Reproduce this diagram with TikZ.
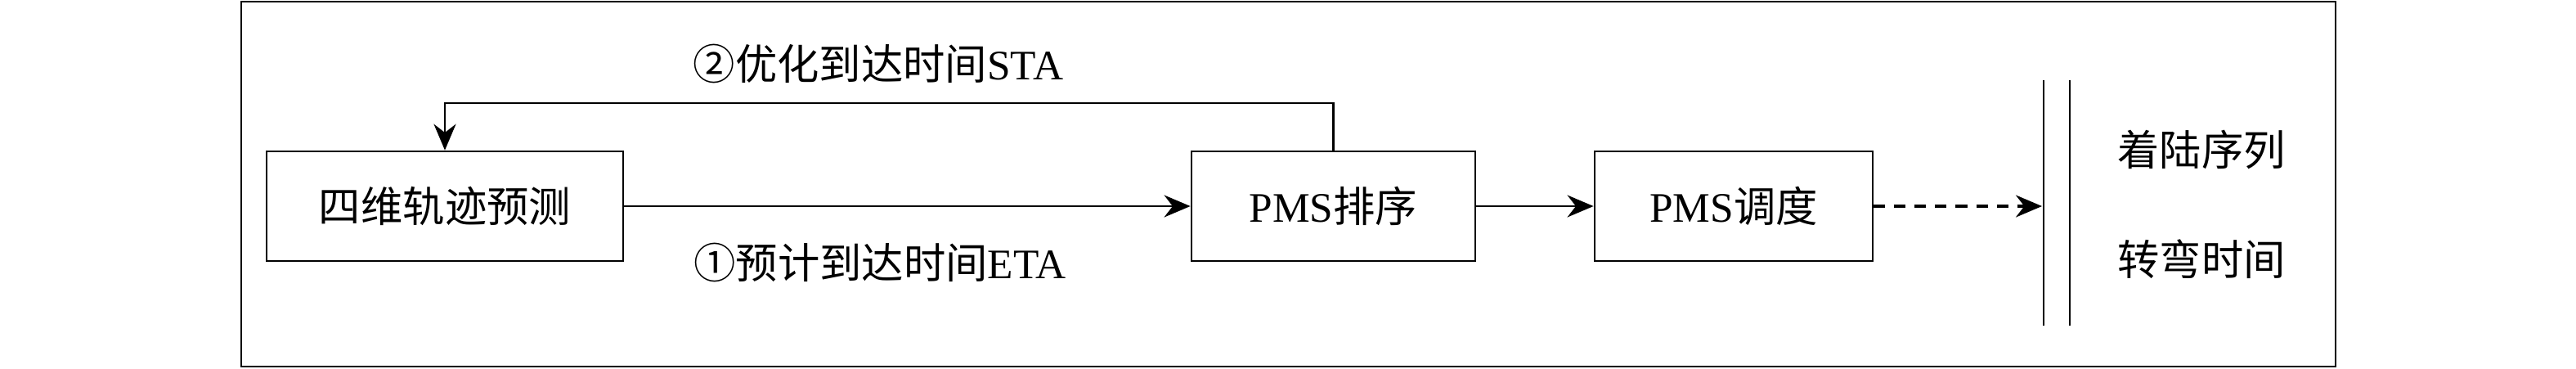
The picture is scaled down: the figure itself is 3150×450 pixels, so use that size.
\documentclass[tikz,border=0pt]{standalone}
\usepackage{fontspec}
\setmainfont{Liberation Serif}
\newfontfamily\cjk{Noto Sans CJK SC}
\usetikzlibrary{arrows.meta}
\begin{document}
\begin{tikzpicture}[x=0.01cm,y=-0.01cm,
  every node/.style={font=\fontsize{14.6}{16}\selectfont, inner sep=0pt},
  procbox/.style={draw, line width=0.75pt, minimum height=1.34cm},
  conn/.style={line width=0.75pt, -{Stealth[length=0.32cm,width=0.27cm]}},
  dconn/.style={line width=0.9pt, dash pattern=on 0.14cm off 0.11cm, -{Stealth[length=0.32cm,width=0.27cm]}},
  sepline/.style={line width=0.45pt}]
\useasboundingbox (0,0) rectangle (3150,450);
\draw[line width=0.75pt] (295,2) rectangle (2856,448);
\node[procbox, minimum width=4.36cm] (b1) at (544,252) {\cjk 四维轨迹预测};
\node[procbox, minimum width=3.47cm] (b2) at (1630.5,252) {PMS{\cjk 排序}};
\node[procbox, minimum width=3.40cm] (b3) at (2120,252) {PMS{\cjk 调度}};
\coordinate (s1a) at (2499,98);
\coordinate (s1b) at (2499,398);
\coordinate (s2a) at (2531,98);
\coordinate (s2b) at (2531,398);
\draw[sepline] (s1a) -- (s1b);
\draw[sepline] (s2a) -- (s2b);
\coordinate (tip) at (2497,252);
\draw[conn] (b1.east) -- (b2.west);
\draw[conn] (b2.east) -- (b3.west);
\draw[dconn] (b3.east) -- (tip);
\draw[conn] (b2.north) -- (b2.north |- 0,126) -| (b1.north);
\node (l2) at (1074,78) {{\cjk ②优化到达时间}STA};
\node (l1) at (1076,321) {{\cjk ①预计到达时间}ETA};
\node (r1) at (2692,183) {\cjk 着陆序列};
\node (r2) at (2692,317) {\cjk 转弯时间};
\end{tikzpicture}
\end{document}
